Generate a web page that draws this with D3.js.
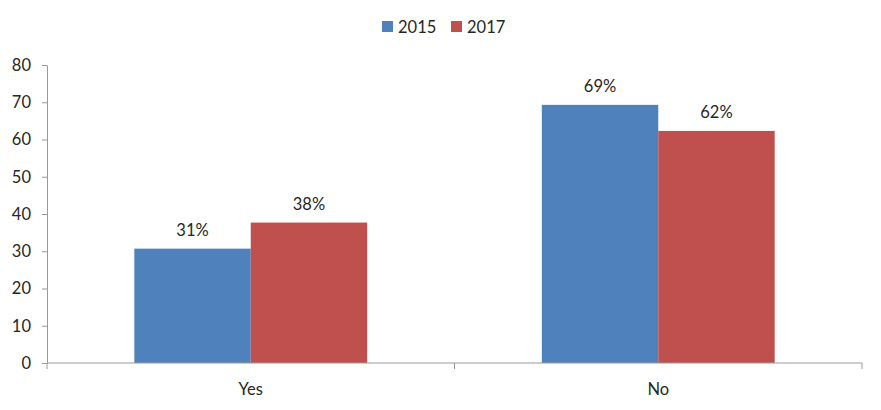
<!DOCTYPE html>
<html>
<head>
<meta charset="utf-8">
<script src="https://cdn.jsdelivr.net/npm/d3@7"></script>
<style>
  body { margin: 0; background: #fff; }
  text { font-family: Lato, "Open Sans", sans-serif; fill: #262626; }
</style>
</head>
<body>
<svg id="chart" width="881" height="410"></svg>
<script>
var categories = ['Yes', 'No'];
var seriesNames = ['2015', '2017'];
var values2015 = [30.7, 69.3];
var values2017 = [37.7, 62.3];
var colors = ['#4F81BD', '#C0504D'];
var yTicks = [0, 10, 20, 30, 40, 50, 60, 70, 80];

var svg = d3.select('#chart');
var margin = {top: 65, right: 19, bottom: 47, left: 47};
var width = 881 - margin.left - margin.right;
var height = 410 - margin.top - margin.bottom;
var fontSize = '16.5px';

var g = svg.append('g').attr('transform', 'translate(' + margin.left + ',' + margin.top + ')');

var x0 = d3.scaleBand().domain(categories).range([0, width]).padding(0);
var x1 = d3.scaleBand().domain(seriesNames).range([0, x0.bandwidth()]).paddingInner(0).paddingOuter(0.75);
var y = d3.scaleLinear().domain([0, 80]).range([height, 0]);

// Y axis
var yAxis = g.append('g')
    .call(d3.axisLeft(y).tickValues(yTicks).tickSize(5).tickSizeOuter(0).tickPadding(11));
yAxis.selectAll('path, line').attr('stroke', '#9a9a9a');
yAxis.selectAll('text').style('font-size', fontSize).attr('fill', '#262626');

// Bars
var rows = categories.map((c, i) => ({cat: c, vals: [values2015[i], values2017[i]]}));
var groups = g.selectAll('g.cat').data(rows).enter().append('g')
    .attr('class', 'cat')
    .attr('transform', (d) => 'translate(' + x0(d.cat) + ',0)');

groups.selectAll('rect').data((d) => d.vals.map((v, i) => ({s: seriesNames[i], v: v, i: i})))
    .enter().append('rect')
    .attr('x', (d) => x1(d.s))
    .attr('y', (d) => y(d.v))
    .attr('width', x1.bandwidth())
    .attr('height', (d) => height - y(d.v))
    .attr('fill', (d) => colors[d.i]);

groups.selectAll('text.lbl').data((d) => d.vals.map((v, i) => ({s: seriesNames[i], v: v})))
    .enter().append('text')
    .attr('class', 'lbl')
    .attr('x', (d) => x1(d.s) + x1.bandwidth() / 2)
    .attr('y', (d) => y(d.v) - 13)
    .attr('text-anchor', 'middle')
    .style('font-size', fontSize)
    .text((d) => Math.round(d.v) + '%');

// X axis baseline and boundary ticks
g.append('line').attr('x1', 0).attr('x2', width).attr('y1', height).attr('y2', height)
    .attr('stroke', '#9a9a9a');
var bounds = categories.map((c) => x0(c)).concat([x0(categories[categories.length - 1]) + x0.bandwidth()]);
g.selectAll('line.xt').data(bounds).enter().append('line')
    .attr('class', 'xt')
    .attr('x1', (d) => d).attr('x2', (d) => d)
    .attr('y1', height).attr('y2', height + 6)
    .attr('stroke', '#9a9a9a');
g.selectAll('text.cat').data(categories).enter().append('text')
    .attr('class', 'cat')
    .attr('x', (d) => x0(d) + x0.bandwidth() / 2)
    .attr('y', height + 32)
    .attr('text-anchor', 'middle')
    .style('font-size', fontSize)
    .text((d) => d);

// Legend
var legend = svg.append('g').attr('transform', 'translate(382,21)');
var legX = [0, 69];
var items = legend.selectAll('g').data(seriesNames).enter().append('g')
    .attr('transform', (d, i) => 'translate(' + legX[i] + ',0)');
items.append('rect').attr('width', 11).attr('height', 11).attr('fill', (d, i) => colors[i]);
items.append('text').attr('x', 16).attr('y', 11.5).style('font-size', fontSize).text((d) => d);
</script>
</body>
</html>
